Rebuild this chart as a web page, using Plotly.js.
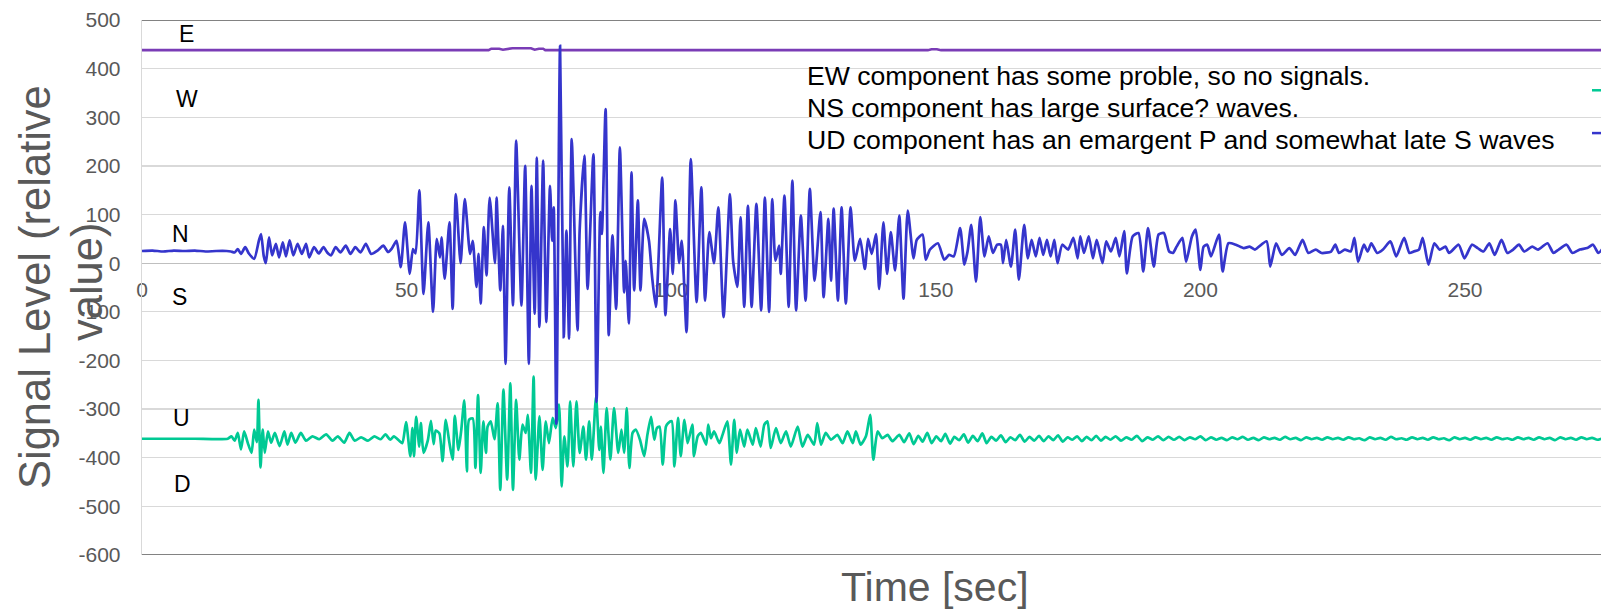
<!DOCTYPE html>
<html>
<head>
<meta charset="utf-8">
<script src="https://cdn.plot.ly/plotly-3.0.1.min.js"></script>
<style>
html, body { margin: 0; padding: 0; overflow: hidden; background: #fff; }
#chart { width: 1601px; height: 611px; }
</style>
</head>
<body>
<div id="chart"></div>
<script>
// ---------- DATA ----------
// EW component (flat, no signal)
const ewTime = [0, 65.5, 66.0, 67.5, 68.2, 70.0, 73.5, 74.2, 75.0, 75.8, 76.2, 148.5, 149.2, 150.2, 151.0, 276];
const ewValue = [438, 438, 441, 441, 439, 442, 442, 439, 441, 441, 438, 438, 440, 440, 438, 438];

// NS component
const nsTime = [0, 2, 4, 6, 8, 10, 12, 14, 16, 16.8, 17.5, 18.1, 18.7, 19.5, 20.2, 21.2, 22.1, 22.5, 23.0, 23.4, 24.0, 24.6, 25.3, 25.9, 26.6, 27.2, 27.9, 28.6, 29.4, 30.2, 31.0, 31.6, 32.5, 33.4, 34.3, 35.0, 35.7, 36.6, 37.5, 38.5, 39.4, 40.3, 41.3, 42.3, 43.3, 44.5, 45.6, 46.5, 47.2, 48.1, 48.9, 49.7, 50.6, 51.2, 51.7, 52.4, 53.2, 54.1, 55.0, 55.7, 56.3, 56.6, 57.2, 58.1, 58.7, 59.3, 60.2, 61.0, 62.0, 62.5, 63.2, 63.6, 64.0, 64.6, 65.1, 65.7, 66.7, 67.0, 67.7, 68.2, 68.7, 69.4, 70.1, 70.7, 71.7, 72.4, 73.1, 73.6, 74.2, 74.6, 75.1, 75.8, 76.4, 77.1, 77.5, 77.8, 78.3, 79.0, 79.7, 80.2, 80.7, 81.2, 82.3, 82.7, 83.6, 84.2, 85.3, 85.9, 86.6, 86.9, 87.6, 88.2, 88.9, 89.6, 90.3, 91.1, 91.4, 92.0, 92.5, 93.0, 93.7, 94.2, 94.9, 95.8, 96.4, 97.1, 98.3, 98.9, 99.8, 100.3, 100.8, 101.5, 102.0, 102.9, 103.7, 104.8, 105.7, 106.4, 107.2, 108.1, 108.9, 109.9, 111.1, 111.7, 112.5, 113.1, 113.8, 114.5, 115.2, 116.1, 117.0, 117.7, 118.5, 119.1, 119.7, 120.4, 120.7, 121.4, 122.2, 122.9, 123.6, 124.5, 125.4, 126.2, 127.1, 128.2, 128.8, 129.7, 130.2, 130.7, 131.5, 132.2, 133.0, 133.9, 134.7, 135.7, 136.6, 137.2, 137.9, 138.7, 139.3, 140.1, 140.8, 141.5, 142.3, 143.1, 143.9, 144.7, 145.8, 146.4, 147.5, 148.1, 148.9, 150.4, 151.6, 152.5, 153.4, 154.6, 155.4, 156.0, 156.7, 157.6, 158.4, 159.2, 160.0, 160.8, 161.6, 162.3, 162.7, 163.3, 164.2, 165.0, 165.7, 166.7, 167.4, 168.1, 168.9, 169.6, 170.3, 171.0, 171.7, 172.4, 173.0, 173.9, 175.0, 176.0, 176.8, 177.3, 178.0, 178.9, 179.7, 180.4, 181.5, 182.2, 183.1, 184.0, 184.7, 185.6, 186.1, 187.2, 188.3, 189.2, 190.1, 191.2, 192.1, 193.1, 194.1, 194.8, 195.5, 196.6, 197.3, 198.4, 199.1, 200.0, 200.6, 201.3, 202.0, 203.5, 204.2, 205.3, 206.7, 208.2, 209.3, 210.3, 212.5, 213.2, 214.3, 215.4, 216.8, 217.9, 219.3, 220.4, 221.8, 222.9, 224.7, 225.5, 226.2, 227.3, 228.4, 229.1, 229.8, 230.9, 231.6, 232.3, 233.4, 234.5, 235.9, 237.0, 238.5, 239.5, 240.3, 241.3, 242.0, 243.1, 244.2, 245.2, 246.3, 247.0, 248.8, 249.9, 251.3, 252.4, 253.5, 254.6, 255.6, 256.9, 258.0, 259.1, 260.2, 261.2, 262.7, 263.8, 265.6, 266.7, 267.7, 269.2, 270.3, 271.7, 273.1, 274.2, 275.2, 276];
const nsValue = [25, 26, 24, 26, 25, 26, 24, 25, 25, 24, 22, 29, 19, 33, 20, 9, 47, 60, 15, 0, 53, 16, 40, 12, 43, 14, 47, 16, 40, 19, 40, 12, 33, 20, 33, 22, 16, 33, 22, 36, 19, 33, 22, 40, 19, 26, 36, 23, 30, 46, -8, 84, -22, 29, 20, 150, -63, 84, -100, 50, 12, 53, -32, 84, -94, 142, 0, 132, 19, 46, -49, 19, -83, 74, -25, 135, 0, 135, -56, 77, -207, 156, -87, 252, -87, 200, -207, 159, -104, 217, -131, 211, -121, 159, 46, 115, -330, 447, -152, 67, -155, 255, -138, 67, 221, -53, 224, -285, 105, 60, 317, -148, 57, -94, 238, -60, 5, -124, 187, -56, 129, -56, 91, 46, -29, -90, 176, -107, 70, -22, 129, 0, 46, -142, 214, -80, 156, -77, 64, 0, 115, -111, 142, 5, -49, 94, -90, 118, -90, 122, -97, 135, -100, 132, 5, 36, -22, 139, -90, 170, -97, 98, -77, 153, -36, 105, -70, 91, -36, 112, -77, 115, -83, 115, 5, 50, -12, 50, 19, 60, -53, 84, -22, 64, -15, 98, -73, 108, 10, 48, 59, 7, 28, 41, 7, 17, 14, 72, -3, 24, 79, -38, 95, 14, 55, 21, 38, 38, 0, 48, -7, 69, -34, 79, 10, 48, 14, 52, 17, 48, 14, 48, 0, 38, 28, 52, 10, 55, 21, 55, 10, 48, 0, 45, 24, 52, 14, 66, -21, 55, 62, -17, 72, -7, 59, 62, 24, 21, 34, 52, 3, 55, 69, -14, 34, 38, 14, 59, -17, 41, 38, 31, 34, 28, 45, -7, 41, 17, 31, 17, 48, 21, 28, 21, 24, 38, 21, 28, 24, 52, 3, 38, 24, 41, 21, 28, 45, 14, 52, 21, 24, 28, 52, -3, 41, 28, 34, 21, 38, 10, 38, 31, 24, 41, 17, 48, 21, 28, 38, 24, 34, 28, 41, 21, 28, 38, 21, 28, 31, 38, 21, 30];

// UD component
const udTime = [0, 5, 10, 16.2, 16.9, 17.5, 18.1, 18.7, 19.3, 20.0, 20.7, 21.2, 21.7, 22.0, 22.4, 22.8, 23.2, 23.8, 24.4, 25.1, 26.0, 26.9, 27.5, 28.2, 29.0, 30.0, 31.0, 32.2, 33.5, 34.8, 36.0, 37.0, 38.2, 39.2, 40.2, 41.4, 42.7, 43.9, 45.1, 46.0, 46.9, 47.6, 48.6, 49.2, 49.9, 50.7, 51.1, 51.4, 51.8, 52.4, 52.7, 53.2, 54.0, 54.6, 55.1, 55.5, 56.2, 56.8, 57.4, 58.1, 58.7, 59.1, 59.8, 60.3, 60.9, 61.4, 61.8, 62.5, 63.0, 63.5, 64.0, 64.5, 65.0, 65.3, 65.9, 66.6, 67.2, 67.7, 68.3, 69.0, 69.6, 70.1, 70.7, 71.3, 71.9, 72.5, 72.9, 73.5, 74.0, 74.4, 75.1, 75.7, 76.3, 76.9, 77.6, 78.2, 78.8, 79.3, 79.8, 80.4, 80.9, 81.5, 82.1, 82.7, 83.4, 83.9, 84.5, 85.0, 85.8, 86.4, 86.7, 87.2, 87.8, 88.5, 89.2, 90.0, 90.6, 91.1, 91.6, 92.1, 92.7, 93.3, 94.1, 94.9, 95.5, 96.2, 96.8, 97.3, 97.8, 98.4, 99.0, 99.4, 100.1, 100.6, 101.3, 101.8, 102.5, 103.1, 104.0, 104.3, 105.0, 105.6, 106.6, 107.0, 107.5, 108.1, 109.1, 109.7, 110.6, 111.3, 111.9, 112.4, 113.0, 113.8, 114.4, 115.4, 116.0, 116.9, 117.6, 118.2, 118.8, 119.8, 120.7, 121.7, 122.6, 123.9, 124.8, 125.8, 127.0, 127.6, 128.3, 129.2, 130.2, 131.4, 132.4, 133.3, 134.3, 134.9, 135.8, 136.8, 137.6, 138.2, 139.0, 139.9, 140.9, 141.8, 143.1, 144.0, 145.0, 145.8, 146.7, 147.5, 148.4, 149.2, 150.1, 151.0, 151.8, 152.7, 153.5, 154.4, 155.3, 156.1, 157.0, 157.9, 158.8, 159.6, 160.5, 161.4, 162.3, 163.2, 164.1, 165.0, 165.9, 166.8, 167.7, 168.6, 169.5, 170.4, 171.3, 172.2, 173.1, 174.0, 174.9, 175.8, 176.7, 177.6, 178.5, 179.4, 180.3, 181.2, 182.1, 183.0, 184.0, 185.0, 186.0, 187.0, 188.0, 189.0, 190.0, 191.0, 192.0, 193.0, 194.0, 195.0, 196.0, 197.0, 198.0, 199.0, 200.0, 201, 202, 203, 204, 205, 206, 207, 208, 209, 210, 211, 212, 213, 214, 215, 216, 217, 218, 219, 220, 221, 222, 223, 224, 225, 226, 227, 228, 229, 230, 231, 232, 233, 234, 235, 236, 237, 238, 239, 240, 241, 242, 243, 244, 245, 246, 247, 248, 249, 250, 251, 252, 253, 254, 255, 256, 257, 258, 259, 260, 261, 262, 263, 264, 265, 266, 267, 268, 269, 270, 271, 272, 273, 274, 275, 276];
const udValue = [-361, -361, -361, -361, -356, -365, -349, -383, -346, -370, -390, -342, -368, -281, -420, -342, -390, -346, -369, -349, -376, -346, -373, -349, -369, -349, -365, -356, -362, -352, -365, -356, -369, -349, -365, -358, -365, -356, -362, -352, -363, -356, -365, -370, -327, -397, -339, -397, -316, -377, -329, -390, -365, -324, -372, -344, -350, -407, -322, -370, -404, -314, -384, -346, -282, -428, -322, -319, -421, -271, -431, -325, -390, -336, -325, -362, -288, -466, -260, -445, -247, -466, -281, -404, -332, -349, -312, -431, -233, -445, -315, -425, -325, -370, -318, -339, -291, -459, -356, -418, -284, -418, -284, -390, -336, -404, -325, -404, -274, -384, -336, -431, -298, -404, -298, -390, -342, -390, -298, -421, -349, -342, -363, -397, -353, -316, -363, -339, -336, -414, -336, -329, -325, -418, -318, -397, -322, -370, -332, -397, -356, -349, -373, -332, -360, -346, -370, -353, -325, -414, -322, -390, -342, -377, -342, -373, -339, -377, -332, -325, -380, -339, -370, -346, -377, -336, -377, -353, -373, -329, -373, -349, -363, -353, -370, -346, -370, -346, -373, -356, -312, -404, -346, -360, -353, -366, -353, -368, -350, -372, -355, -367, -349, -370, -356, -366, -351, -371, -357, -364, -352, -369, -355, -366, -350, -370, -357, -365, -354, -368, -358, -364, -353, -367, -357, -365, -355, -366, -356, -364, -354, -367, -358, -363, -356, -366, -357, -364, -355, -365, -357, -363, -356, -365, -358, -363, -355, -366, -358, -363, -356, -364, -357, -363, -357, -364, -358, -362, -356, -364, -358, -363, -359, -364, -358, -362, -357, -363, -359, -364, -358, -362, -359, -363, -357, -362, -359, -364, -358, -362, -359, -363, -358, -362, -359, -363, -358, -362, -360, -364, -358, -362, -359, -363, -357, -362, -360, -363, -358, -362, -359, -363, -358, -362, -360, -364, -358, -362, -359, -363, -358, -362, -359, -363, -358, -362, -360, -363, -358, -362, -359, -363, -358, -362, -359, -364, -358, -362, -359, -363, -358, -362, -359, -363, -360];

// Axis ticks and labels
const yTickVals = [-600, -500, -400, -300, -200, -100, 0, 100, 200, 300, 400, 500];
const xTickVals = [0, 50, 100, 150, 200, 250];
const xRange = [0, 275.7];
const yRange = [-600, 500];

// Texts
const noteLines = [
  "EW component has some proble, so no signals.",
  "NS component has large surface? waves.",
  "UD component has an emargent P and somewhat late S waves"
];
const dirLabels = ["E", "W", "N", "S", "U", "D"];
const xTitle = "Time [sec]";
const yTitleLines = ["Signal Level (relative", "value)"];

// ---------- CHART ----------
const FONT = "Liberation Sans, Arial, sans-serif";
const GRAY = "#595959";

const traces = [
  { x: ewTime, y: ewValue, type: "scatter", mode: "lines", name: "EW",
    line: { color: "#7a3cb6", width: 2.6 }, hoverinfo: "skip" },
  { x: udTime, y: udValue, type: "scatter", mode: "lines", name: "UD",
    line: { color: "#00c994", width: 2.7, shape: "spline", smoothing: 0.6 }, hoverinfo: "skip" },
  { x: nsTime, y: nsValue, type: "scatter", mode: "lines", name: "NS",
    line: { color: "#3535cc", width: 2.7, shape: "spline", smoothing: 0.6 }, hoverinfo: "skip" }
];

const dirPos = [
  [8.5, 472], [8.5, 338], [7.2, 60], [7.0, -70], [7.4, -318], [7.6, -454]
];
const annotations = [];
dirLabels.forEach((t, i) => {
  annotations.push({ x: dirPos[i][0], y: dirPos[i][1], xref: "x", yref: "y",
    text: t, showarrow: false, xanchor: "center", yanchor: "middle",
    font: { family: FONT, size: 23, color: "#000" } });
});
const noteY = [384, 320, 253];
noteLines.forEach((t, i) => {
  annotations.push({ x: 125.2, y: noteY[i], xref: "x", yref: "y",
    text: t, showarrow: false, xanchor: "left", yanchor: "middle",
    font: { family: FONT, size: 26.6, color: "#000" } });
});
// axis titles (as annotations to allow the reference's overlap)
annotations.push({ x: (935 - 142) / 1459, y: (555.3 - 587) / 535.6, xref: "paper", yref: "paper",
  text: xTitle, showarrow: false, xanchor: "center", yanchor: "middle",
  font: { family: FONT, size: 41, color: GRAY } });
annotations.push({ x: (35 - 142) / 1459, y: (555.3 - 287) / 535.6, xref: "paper", yref: "paper",
  text: yTitleLines[0], showarrow: false, textangle: -90, xanchor: "center", yanchor: "middle",
  font: { family: FONT, size: 43.5, color: GRAY } });
annotations.push({ x: (87 - 142) / 1459, y: (555.3 - 282) / 535.6, xref: "paper", yref: "paper",
  text: yTitleLines[1], showarrow: false, textangle: -90, xanchor: "center", yanchor: "middle",
  font: { family: FONT, size: 43.5, color: GRAY } });

const shapes = [
  { type: "line", xref: "paper", yref: "y", x0: 0, x1: 1, y0: yRange[1], y1: yRange[1],
    line: { color: GRAY, width: 1.5 } },
  { type: "line", xref: "paper", yref: "y", x0: 0, x1: 1, y0: yRange[0], y1: yRange[0],
    line: { color: GRAY, width: 1.5 } },
  // legend stubs cut by the picture edge
  { type: "line", xref: "paper", yref: "y", x0: (1592 - 142) / 1459, x1: 1.01, y0: 355.5, y1: 355.5,
    line: { color: "#00c994", width: 2.5 } },
  { type: "line", xref: "paper", yref: "y", x0: (1592 - 142) / 1459, x1: 1.01, y0: 267.5, y1: 267.5,
    line: { color: "#3535cc", width: 2.5 } }
];

const layout = {
  width: 1601, height: 611,
  margin: { l: 142, r: 0, t: 20, b: 56, pad: 0 },
  paper_bgcolor: "#fff", plot_bgcolor: "#fff",
  showlegend: false,
  font: { family: FONT, color: GRAY },
  xaxis: {
    range: xRange, tickvals: xTickVals, ticktext: xTickVals.map(String),
    showgrid: false, zeroline: false, showline: true, linecolor: "#bfbfbf", linewidth: 1.3,
    anchor: "free", position: (0 - yRange[0]) / (yRange[1] - yRange[0]),
    ticks: "outside", ticklen: 7, tickcolor: "rgba(0,0,0,0)",
    tickfont: { family: FONT, size: 21, color: GRAY },
    layer: "below traces", fixedrange: true
  },
  yaxis: {
    range: yRange, tickvals: yTickVals, ticktext: yTickVals.map(String),
    showgrid: true, gridcolor: "#d9d9d9", gridwidth: 1.3, zeroline: false,
    showline: true, linecolor: "#d9d9d9", linewidth: 1.3,
    ticks: "outside", ticklen: 16, tickcolor: "rgba(0,0,0,0)",
    tickfont: { family: FONT, size: 21, color: GRAY },
    fixedrange: true
  },
  annotations: annotations,
  shapes: shapes
};

Plotly.newPlot("chart", traces, layout, { staticPlot: true, displayModeBar: false });
</script>
</body>
</html>
